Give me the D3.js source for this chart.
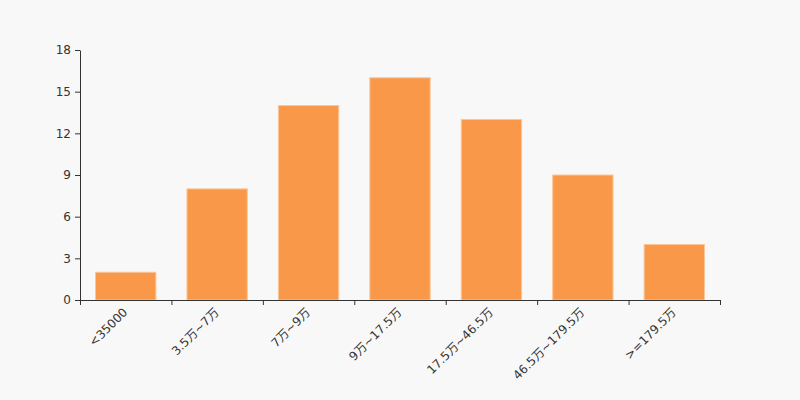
<!DOCTYPE html>
<html>
<head>
<meta charset="utf-8">
<script src="https://cdn.jsdelivr.net/npm/d3@7"></script>
<style>
  body { margin: 0; background: #f8f8f8; }
  svg { display: block; }
  .axis text { font-family: "DejaVu Sans", "Noto Sans CJK SC", sans-serif; font-size: 12px; fill: #333; }
  .axis path, .axis line { stroke: #333; }
</style>
</head>
<body>
<svg id="chart"></svg>
<script>
// income bands and counts
const categories = ["<35000", "3.5万~7万", "7万~9万", "9万~17.5万", "17.5万~46.5万", "46.5万~179.5万", ">=179.5万"];
const counts = [2, 8, 14, 16, 13, 9, 4];
const yTicks = [0, 3, 6, 9, 12, 15, 18];

const margin = { top: 50, right: 80, bottom: 100, left: 80 };
const width = 800 - margin.left - margin.right;
const height = 400 - margin.top - margin.bottom;

const svg = d3.select("#chart")
    .attr("width", 800)
    .attr("height", 400)
  .append("g")
    .attr("transform", "translate(" + margin.left + "," + margin.top + ")");

const xScale = d3.scaleBand()
    .domain(categories)
    .range([0, width])
    .paddingInner(0.34)
    .paddingOuter(0.17);

const yScale = d3.scaleLinear()
    .domain([0, 18])
    .range([height, 0]);

// bars
svg.selectAll("rect.bar")
    .data(counts)
    .enter()
    .append("rect")
    .attr("class", "bar")
    .attr("x", (d, i) => xScale(categories[i]))
    .attr("y", d => yScale(d))
    .attr("width", xScale.bandwidth())
    .attr("height", d => height - yScale(d))
    .style("fill", "#f89848")
    .style("stroke", "#fbc79a")
    .style("stroke-width", 1);

// y axis
svg.append("g")
    .attr("class", "axis")
    .call(d3.axisLeft(yScale).tickValues(yTicks).tickSize(5).tickPadding(4).tickSizeOuter(0));

// x axis: line plus ticks at band edges
const xAxisG = svg.append("g")
    .attr("class", "axis")
    .attr("transform", "translate(0," + height + ")");

const edgeScale = d3.scaleLinear().domain([0, categories.length]).range([0, width]);
xAxisG.call(d3.axisBottom(edgeScale).tickValues(d3.range(categories.length + 1)).tickSize(5).tickSizeOuter(0).tickFormat(""));

xAxisG.selectAll(".label")
    .data(categories)
    .enter()
    .append("text")
    .attr("class", "label")
    .attr("transform", d => "translate(" + (xScale(d) + xScale.bandwidth() / 2 + 2.5) + ",13) rotate(-45)")
    .attr("text-anchor", "end")
    .text(d => d);
</script>
</body>
</html>
